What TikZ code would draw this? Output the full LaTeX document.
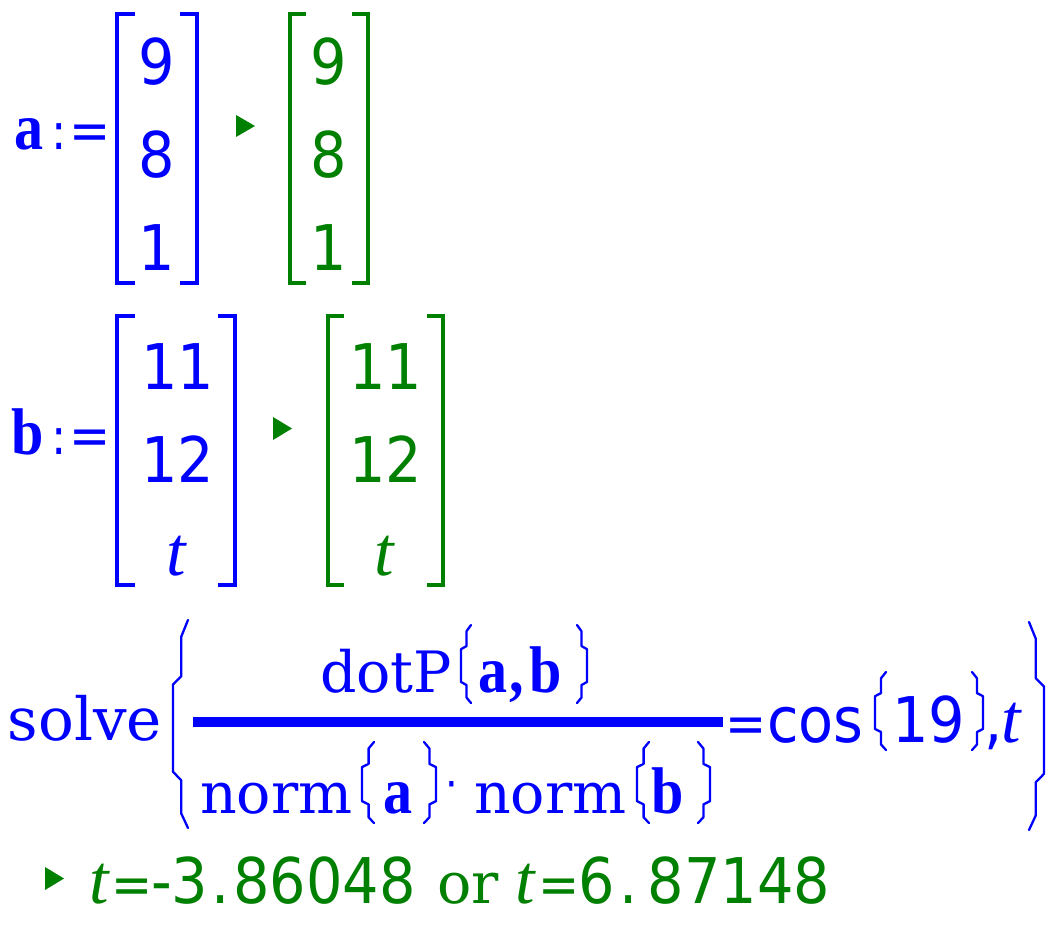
\documentclass[tikz,border=0pt]{standalone}
\usepackage{fontspec}
\newfontfamily\tisans[FakeStretch=0.91]{DejaVu Sans}
\newfontfamily\tiserif{DejaVu Serif}
\newfontfamily\tibold[FakeStretch=0.88]{Liberation Serif}
\newfontfamily\tiital{Liberation Serif}
\definecolor{tiblue}{RGB}{0,0,255}
\definecolor{tigreen}{RGB}{0,128,0}
\newcommand\fd{\tisans\fontsize{63}{70}\selectfont}
\newcommand\fe{\tisans\fontsize{54}{60}\selectfont}
\newcommand\fc{\tisans\fontsize{50}{56}\selectfont}
\newcommand\fsr{\tiserif\fontsize{57}{64}\selectfont}
\newcommand\fsl{\tiserif\fontsize{59.5}{66}\selectfont}
\newcommand\fb{\tibold\bfseries\fontsize{66}{72}\selectfont}
\newcommand\ftt{\tiital\itshape\fontsize{70}{76}\selectfont}
\newcommand\fdot{\tisans\fontsize{44}{50}\selectfont}
% left paren: inner x, outer x, top, bottom, style
\newcommand\tiLP[5]{%
  \pgfmathsetmacro\tiA{#3+0.08*(#4-#3)}%
  \pgfmathsetmacro\tiB{#3+0.27*(#4-#3)}%
  \pgfmathsetmacro\tiC{#3+0.31*(#4-#3)}%
  \pgfmathsetmacro\tiD{#4-0.27*(#4-#3)}%
  \pgfmathsetmacro\tiE{#4-0.23*(#4-#3)}%
  \pgfmathsetmacro\tiF{#4-0.07*(#4-#3)}%
  \pgfmathsetmacro\tiM{#1+0.55*(#2-#1)}%
  \draw[#5] (#2,#3) -- (\tiM,\tiA) -- (\tiM,\tiB) -- (#1,\tiC) -- (#1,\tiD) -- (\tiM,\tiE) -- (\tiM,\tiF) -- (#2,#4);}
% right paren: inner x, outer x, top, bottom, style
\newcommand\tiRP[5]{%
  \pgfmathsetmacro\tiA{#3+0.08*(#4-#3)}%
  \pgfmathsetmacro\tiB{#3+0.27*(#4-#3)}%
  \pgfmathsetmacro\tiC{#3+0.31*(#4-#3)}%
  \pgfmathsetmacro\tiD{#4-0.27*(#4-#3)}%
  \pgfmathsetmacro\tiE{#4-0.23*(#4-#3)}%
  \pgfmathsetmacro\tiF{#4-0.07*(#4-#3)}%
  \pgfmathsetmacro\tiM{#2-0.55*(#2-#1)}%
  \draw[#5] (#1,#3) -- (\tiM,\tiA) -- (\tiM,\tiB) -- (#2,\tiC) -- (#2,\tiD) -- (\tiM,\tiE) -- (\tiM,\tiF) -- (#1,#4);}
\tikzset{
  blu/.style={text=tiblue, inner sep=0pt, outer sep=0pt},
  grn/.style={text=tigreen, inner sep=0pt, outer sep=0pt},
  txt/.style={anchor=base west},
  mid/.style={anchor=base},
  brkb/.style={draw=tiblue, line width=4pt},
  brkg/.style={draw=tigreen, line width=4pt},
  parb/.style={draw=tiblue, line width=2.3pt, line join=round, line cap=round},
  tri/.style={fill=tigreen},
}
\begin{document}
\begin{tikzpicture}[x=1pt,y=-1pt]
\fill[white] (0,0) rectangle (1057,928);
\useasboundingbox (0,0) rectangle (1057,928);

% ---------- row 1 : a := [9 8 1] > [9 8 1]
\node[blu,txt,font=\fb] (a1) at (14,150) {a};
\node[blu,txt,font=\fc] (c1) at (51,150) {:};
\node[blu,txt,font=\fe] (e1) at (69,150) {=};
\draw[brkb] (135,14.5) -| (117,283) -- (135,283);
\draw[brkb] (180,14.5) -| (197,283) -- (180,283);
\node[blu,mid,font=\fd] (m11) at (157,85) {9};
\node[blu,mid,font=\fd] (m12) at (157,178) {8};
\node[blu,mid,font=\fd] (m13) at (157,270) {1};
\fill[tri] (236,115) -- (255,126) -- (236,137) -- cycle;
\draw[brkg] (306,14.5) -| (289.5,283) -- (306,283);
\draw[brkg] (352,14.5) -| (368,283) -- (352,283);
\node[grn,mid,font=\fd] (r11) at (329,85) {9};
\node[grn,mid,font=\fd] (r12) at (329,178) {8};
\node[grn,mid,font=\fd] (r13) at (329,270) {1};

% ---------- row 2 : b := [11 12 t] > [11 12 t]
\node[blu,txt,font=\fb] (b2) at (12,454) {b};
\node[blu,txt,font=\fc] (c2) at (51,454) {:};
\node[blu,txt,font=\fe] (e2) at (69,454) {=};
\draw[brkb] (135,316) -| (117,585) -- (135,585);
\draw[brkb] (218,316) -| (235,585) -- (218,585);
\node[blu,mid,font=\fd] (m21) at (178,389) {11};
\node[blu,mid,font=\fd] (m22) at (178,482) {12};
\node[blu,mid,font=\ftt] (m23) at (176,575) {t};
\fill[tri] (273,417) -- (292,428.5) -- (273,440) -- cycle;
\draw[brkg] (344,316) -| (327.5,585) -- (344,585);
\draw[brkg] (427,316) -| (442.5,585) -- (427,585);
\node[grn,mid,font=\fd] (r21) at (386,389) {11};
\node[grn,mid,font=\fd] (r22) at (386,482) {12};
\node[grn,mid,font=\ftt] (r23) at (384,575) {t};

% ---------- row 3 : solve( dotP(a,b)/(norm(a).norm(b)) = cos(19), t )
\node[blu,txt,font=\fsl] (solve) at (8,740) {solve};
\tiLP{173}{188}{620}{828}{parb}
\fill[tiblue] (193,717) rectangle (723,727);
% numerator
\node[blu,txt,font=\fsr] (dotp) at (320,692) {dotP};
\tiLP{461}{471}{625}{703}{parb}
\node[blu,txt,font=\fb] (na) at (478,692) {a};
\node[blu,txt,font=\fb] (ncomma) at (509,692) {,};
\node[blu,txt,font=\fb] (nb) at (529,692) {b};
\tiRP{577}{587}{625}{703}{parb}
% denominator
\node[blu,txt,font=\fsr] (norm1) at (200,813) {norm};
\tiLP{362}{374}{742}{823}{parb}
\node[blu,txt,font=\fb] (da) at (383,813) {a};
\tiRP{424}{436}{742}{823}{parb}
\node[blu,mid,font=\fdot] (cdot) at (452,799) {·};
\node[blu,txt,font=\fsr] (norm2) at (474,813) {norm};
\tiLP{637}{649}{742}{823}{parb}
\node[blu,txt,font=\fb] (db) at (651,813) {b};
\tiRP{698}{710}{742}{823}{parb}
% right side
\node[blu,txt,font=\fe] (e3) at (725,742) {=};
\node[blu,txt,font=\fd] (cos) at (767,742) {cos};
\tiLP{875}{886}{672}{750}{parb}
\node[blu,txt,font=\fd] (n19) at (892,742) {19};
\tiRP{972}{983}{672}{750}{parb}
\node[blu,txt,font=\fd] (comma3) at (984,742) {,};
\node[blu,txt,font=\ftt] (t3) at (1001,742) {t};
\tiRP{1029}{1044}{622}{830}{parb}

% ---------- row 4 : > t=-3.86048 or t=6.87148
\fill[tri] (45,867) -- (64,878.5) -- (45,890) -- cycle;
\node[grn,txt,font=\ftt] (t4a) at (89,903) {t};
\node[grn,txt,font=\fe] (e4a) at (111,903) {=};
\node[grn,txt,font=\fd] (v1) at (151,903) {-3\kern3pt.\kern4pt86048};
\node[grn,txt,font=\fsr] (or) at (437,903) {or};
\node[grn,txt,font=\ftt] (t4b) at (515,903) {t};
\node[grn,txt,font=\fe] (e4b) at (538,903) {=};
\node[grn,txt,font=\fd] (v2) at (578,903) {6\kern5pt.\kern10pt87148};
\end{tikzpicture}
\end{document}
